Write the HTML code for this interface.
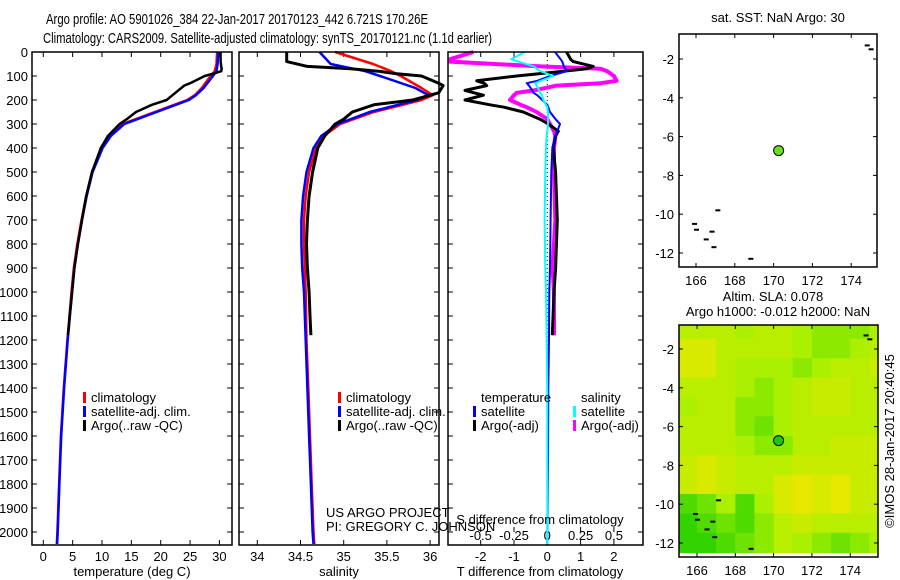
<!DOCTYPE html>
<html><head><meta charset="utf-8">
<style>
html,body{margin:0;padding:0;background:#fff;}
svg{display:block;font-family:"Liberation Sans",sans-serif;}
text{font-size:13px;fill:#000;}
</style></head>
<body>
<svg id="chart" width="900" height="580" viewBox="0 0 900 580" xmlns="http://www.w3.org/2000/svg">
<text x="46" y="24" textLength="382" lengthAdjust="spacingAndGlyphs" style="font-size:15px">Argo profile: AO 5901026_384 22-Jan-2017 20170123_442 6.721S 170.26E</text>
<text x="43" y="43" textLength="449" lengthAdjust="spacingAndGlyphs" style="font-size:15px">Climatology: CARS2009. Satellite-adjusted climatology: synTS_20170121.nc (1.1d earlier)</text>
<g id="layer"></g>
</svg>
<script>
// ---------- data ----------
const depthTicks = [0,100,200,300,400,500,600,700,800,900,1000,1100,1200,1300,1400,1500,1600,1700,1800,1900,2000];
const tTicks = [0,5,10,15,20,25,30];
const sTicks = [34,34.5,35,35.5,36];
const dTTicks = [-2,-1,0,1,2];
const dSTicks = [-0.5,-0.25,0,0.25,0.5];
const lonTicks = [166,168,170,172,174];
const latTicks = [-2,-4,-6,-8,-10,-12];

const climDepth = [0,50,80,100,150,180,200,250,300,350,400,500,600,700,800,900,1000,1200,1400,1600,1800,2000,2050];
const climTemp  = [29.6,29.5,29.2,28.5,27,25.8,24.5,19,13.5,11.3,10,8.3,7.3,6.5,5.8,5.2,4.8,4.1,3.5,3.0,2.7,2.4,2.3];
const satTemp   = [29.8,29.7,29.5,28.9,27.3,26,24.8,19.3,13.8,11.5,10.1,8.4,7.4,6.6,5.9,5.3,4.9,4.15,3.55,3.05,2.75,2.45,2.35];
const climSal   = [34.9,35.34,35.55,35.66,35.9,36.03,35.9,35.35,34.96,34.77,34.68,34.6,34.56,34.54,34.54,34.55,34.56,34.57,34.59,34.61,34.63,34.65,34.66];
const satSal    = [34.72,34.85,35.25,35.42,35.83,35.98,35.85,35.3,34.93,34.74,34.65,34.57,34.53,34.51,34.51,34.52,34.54,34.56,34.58,34.6,34.62,34.64,34.65];

const argoDepth = [0,40,60,70,80,90,100,130,140,170,200,220,250,280,300,350,400,500,600,700,800,900,1000,1100,1180];
const argoTemp  = [30.2,30.2,30.3,30.4,30.3,29,27.5,25,24,22.5,21,18.5,15.8,14.2,13,11,9.8,8.3,7.3,6.6,5.9,5.3,4.9,4.5,4.2];
const argoSal   = [34.34,34.34,34.58,35.08,35.4,35.6,35.9,36.1,36.15,36.1,35.8,35.35,35.1,35.0,34.9,34.78,34.7,34.64,34.6,34.58,34.57,34.58,34.6,34.61,34.62];

const diffDepth = [0,30,40,60,70,80,100,120,130,140,160,170,180,200,220,230,250,280,300,330,350,400,500,700,900,1000,1180,1400,1700,2050];
const dTsat  = [0.23,0.4,0.45,0.5,0.55,0.58,0.08,-0.3,-0.62,-0.55,-0.45,-0.42,-0.3,-0.15,0.0,0.03,0.08,0.25,0.38,0.3,0.23,0.15,0.12,0.1,0.08,0.06,0.05,0.03,0.02,0.0];
const dTargo = [0.58,0.7,0.78,1.38,1.18,0.48,-0.92,-2.12,-1.9,-1.82,-2.47,-2.2,-1.92,-2.47,-1.72,-1.3,-0.72,-0.22,0.03,0.33,0.25,0.18,0.25,0.3,0.25,0.2,0.15,null,null,null];
const dSsat  = [-0.17,-0.27,-0.22,-0.1,-0.08,-0.05,0.045,-0.05,-0.09,-0.08,-0.06,-0.055,-0.04,-0.03,-0.01,0.0,0.005,0.005,0.005,0.0,-0.005,-0.01,-0.015,-0.02,-0.015,-0.01,-0.005,0.0,0.0,0.0];
const dSargo = [-0.555,-0.73,-0.73,-0.05,0.4,0.45,0.5,0.52,0.4,0.07,-0.1,-0.23,-0.25,-0.28,-0.2,-0.155,-0.08,0.0,0.02,0.05,0.06,0.05,0.05,0.06,0.04,0.05,0.05,null,null,null];

const argoLon = 170.26, argoLat = -6.72;
const slaLon = [165.5,166.5,167.5,168.5,169.5,170.5,171.5,172.5,173.5,174.5,175.5];
const slaLat = [-1,-2,-3,-4,-5,-6,-7,-8,-9,-10,-11,-12];
const slaGrid = [
 [0.6,0.6,0.6,0.5,0.6,0.6,0.5,0.4,0.4,0.4,0.5],
 [0.8,0.8,0.6,0.6,0.6,0.6,0.5,0.4,0.4,0.5,0.6],
 [0.8,0.8,0.6,0.5,0.5,0.5,0.4,0.5,0.6,0.6,0.7],
 [0.6,0.6,0.6,0.5,0.4,0.5,0.6,0.7,0.7,0.6,0.6],
 [0.5,0.6,0.6,0.4,0.4,0.5,0.6,0.7,0.7,0.6,0.6],
 [0.6,0.6,0.6,0.4,0.3,0.5,0.6,0.6,0.6,0.6,0.6],
 [0.6,0.6,0.6,0.5,0.4,0.4,0.6,0.6,0.7,0.7,0.7],
 [0.7,0.8,0.7,0.6,0.6,0.6,0.7,0.7,0.7,0.7,0.7],
 [0.7,0.8,0.7,0.6,0.6,0.8,0.9,0.8,0.9,0.7,0.7],
 [0.2,0.3,0.5,0.2,0.5,0.8,0.9,0.8,0.9,0.7,0.7],
 [0.1,0.2,0.3,0.2,0.4,0.6,0.7,0.6,0.6,0.6,0.6],
 [0.1,0.1,0.2,0.3,0.4,0.6,0.5,0.4,0.3,0.4,0.5]
];

// ---------- helpers ----------
const NS = "http://www.w3.org/2000/svg";
const layer = document.getElementById('layer');
function mk(tag, attrs, parent){const e=document.createElementNS(NS,tag);for(const k in attrs)e.setAttribute(k,attrs[k]);(parent||layer).appendChild(e);return e;}
function txt(x,y,s,anchor,size){const t=mk('text',{x:x,y:y,'text-anchor':anchor||'start'});if(size)t.style.fontSize=size+'px';t.textContent=s;return t;}
const yD = d => 52 + d*0.24;
const xT = t => 43.3 + t*5.87;
const xS = s => 257.3 + (s-34)*86.4;
const xDT = v => 547.3 + v*33.3;
const xDS = v => 547.3 + v*133.2;

function line(xs, ys, color, w, name){
  let d='';
  for(let i=0;i<xs.length;i++){ if(xs[i]==null) continue; d += (d===''?'M':'L') + xs[i].toFixed(1)+','+ys[i].toFixed(1); }
  const p=mk('path',{d:d,fill:'none',stroke:color,'stroke-width':w,'stroke-linejoin':'round'});
  
  
  return p;
}
function frame(x,y,w,h,name){
  const r=mk('rect',{x:x,y:y,width:w,height:h,fill:'none',stroke:'#000','stroke-width':1.5});
  
  
}
function tick(x1,y1,x2,y2){mk('line',{x1:x1,y1:y1,x2:x2,y2:y2,stroke:'#000','stroke-width':1});}

const P1={x:32,y:52,w:200,h:493};
const P2={x:239,y:52,w:200,h:493};
const P3={x:448,y:52,w:195,h:493};
[P1,P2,P3].forEach((P,i)=>{
  mk('rect',{x:P.x,y:P.y,width:P.w,height:P.h,fill:'#fff'});
  depthTicks.forEach(d=>{tick(P.x,yD(d),P.x+5,yD(d));tick(P.x+P.w,yD(d),P.x+P.w-5,yD(d));});
});
depthTicks.forEach(d=>{const t=txt(28,yD(d)+5,String(d),'end');});

tTicks.forEach(t=>{tick(xT(t),P1.y,xT(t),P1.y+5);tick(xT(t),P1.y+P1.h,xT(t),P1.y+P1.h-5);
  const l=txt(xT(t),561,String(t),'middle');});
line(climTemp.map(xT),climDepth.map(yD),'#f00',2.5,'temp-climatology-line');
line(satTemp.map(xT),climDepth.map(yD),'#00f',2.5,'temp-satellite-line');
line(argoTemp.map(xT),argoDepth.map(yD),'#000',2.5,'temp-argo-line');
txt(132,576,'temperature (deg C)','middle');

sTicks.forEach(s=>{tick(xS(s),P2.y,xS(s),P2.y+5);tick(xS(s),P2.y+P2.h,xS(s),P2.y+P2.h-5);
  const l=txt(xS(s),561,String(s),'middle');});
line(climSal.map(xS),climDepth.map(yD),'#f00',2.5,'sal-climatology-line');
line(satSal.map(xS),climDepth.map(yD),'#00f',2.5,'sal-satellite-line');
line(argoSal.map(xS),argoDepth.map(yD),'#000',3,'sal-argo-line');
txt(339,576,'salinity','middle');
txt(326,517,'US ARGO PROJECT');
txt(326,531,'PI: GREGORY C. JOHNSON');

mk('line',{x1:xDT(0),y1:P3.y,x2:xDT(0),y2:P3.y+P3.h,stroke:'#000','stroke-width':1,'stroke-dasharray':'1,3'});
dTTicks.forEach(v=>{tick(xDT(v),P3.y,xDT(v),P3.y+5);tick(xDT(v),P3.y+P3.h,xDT(v),P3.y+P3.h-5);
  const l=txt(xDT(v),561,String(v),'middle');});
dSTicks.forEach(v=>{tick(xDS(v),P3.y+P3.h-18,xDS(v),P3.y+P3.h-13);
  const l=txt(xDS(v),540,String(v),'middle');});
line(dSargo.map(v=>v==null?null:xDS(v)),diffDepth.map(yD),'#f0f',4,'sdiff-argo-line');
line(dTargo.map(v=>v==null?null:xDT(v)),diffDepth.map(yD),'#000',3,'tdiff-argo-line');
line(dTsat.map(xDT),diffDepth.map(yD),'#00f',2,'tdiff-satellite-line');
line(dSsat.map(xDS),diffDepth.map(yD),'#0ff',2,'sdiff-satellite-line');
txt(540,524,'S difference from climatology','middle');
txt(540,576,'T difference from climatology','middle');

[P1,P2,P3].forEach((P,i)=>frame(P.x,P.y,P.w,P.h,['temp-panel','sal-panel','diff-panel'][i]));

function legend(x,y,color,label,name){
  const g=mk('g',{});
  
  
  mk('rect',{x:x,y:y-10,width:3,height:11,fill:color},g);
  const t=mk('text',{x:x+8,y:y},g);t.textContent=label;
}
legend(83,402,'#f00','climatology','legend-entry-climatology');
legend(83,416,'#00f','satellite-adj. clim.','legend-entry-satellite');
legend(83,430,'#000','Argo(..raw -QC)','legend-entry-argo');
legend(338,402,'#f00','climatology','legend-entry-climatology-sal');
legend(338,416,'#00f','satellite-adj. clim.','legend-entry-satellite-sal');
legend(338,430,'#000','Argo(..raw -QC)','legend-entry-argo-sal');
txt(481,402,'temperature');
txt(581,402,'salinity');
legend(473,416,'#00f','satellite','legend-t-satellite');
legend(473,430,'#000','Argo(-adj)','legend-t-argo');
legend(573,416,'#0ff','satellite','legend-s-satellite');
legend(573,430,'#f0f','Argo(-adj)','legend-s-argo');

function map(M){
  const X = lon => M.x0 + (lon-166)*M.kx;
  const Y = lat => M.y0 + (lat+2)*M.ky;
  return {X,Y};
}
const M1={left:679,top:34,right:877,bottom:267,x0:696,kx:19.4,y0:59,ky:-19.4};
const M2={left:679,top:325,right:878,bottom:557,x0:697,kx:19.15,y0:349,ky:-19.4};
function slaColor(v){
  // green -> yellow-green -> yellow
  let r,g;
  if(v<0.5){ const f=v/0.5; r=Math.round(20+f*150); g=Math.round(205+f*35); }
  else { const f=(v-0.5)/0.5; r=Math.round(170+f*75); g=Math.round(240-f*10); }
  return `rgb(${r},${g},0)`;
}
(function(){
  const {X,Y}=map(M2);
  const g=mk('g',{});
  
  
  const cp=mk('clipPath',{id:'clip2'},g);
  mk('rect',{x:M2.left,y:M2.top,width:M2.right-M2.left,height:M2.bottom-M2.top},cp);
  const cg=mk('g',{'clip-path':'url(#clip2)'},g);
  slaLat.forEach((lat,i)=>slaLon.forEach((lon,j)=>{
    const v=slaGrid[i][j];
    const x1=X(lon-0.5),x2=X(lon+0.5),y1=Y(lat+0.5),y2=Y(lat-0.5);
    const c=mk('rect',{x:x1,y:Math.min(y1,y2)-0.5,width:x2-x1+0.5,height:Math.abs(y2-y1)+1,fill:slaColor(v)},cg);
    
    
  }));
})();
[[M1,'sst-map'],[M2,'sla-map']].forEach(([M,name])=>{
  const {X,Y}=map(M);
  lonTicks.forEach(l=>{tick(X(l),M.top,X(l),M.top+4);tick(X(l),M.bottom,X(l),M.bottom-4);
    const t=txt(X(l),M.bottom+18,String(l),'middle');});
  latTicks.forEach(l=>{tick(M.left,Y(l),M.left+4,Y(l));tick(M.right,Y(l),M.right-4,Y(l));
    const t=txt(M.left-5,Y(l)+5,String(l),'end');});
  [[166.8,-10.9],[166.0,-10.8],[165.9,-10.5],[167.1,-9.8],[166.5,-11.3],[166.9,-11.7],[168.8,-12.3],[174.8,-1.3],[175.0,-1.5]].forEach(p=>{
    mk('rect',{x:X(p[0])-2,y:Y(p[1])-1,width:5,height:2,fill:'#000'});
  });
  const dot=mk('circle',{cx:X(argoLon),cy:Y(argoLat),r:5,fill:M===M1?'#66e01a':'#18c818',stroke:'#000','stroke-width':1});
  
  
  frame(M.left,M.top,M.right-M.left,M.bottom-M.top,name);
});
txt(778,22,'sat. SST: NaN Argo: 30','middle');
txt(773,301,'Altim. SLA: 0.078','middle');
txt(778,316,'Argo h1000: -0.012 h2000: NaN','middle');
const imos=txt(0,0,'©IMOS 28-Jan-2017 20:40:45','middle');
imos.setAttribute('transform','translate(894,441) rotate(-90)');


</script>
</body></html>
